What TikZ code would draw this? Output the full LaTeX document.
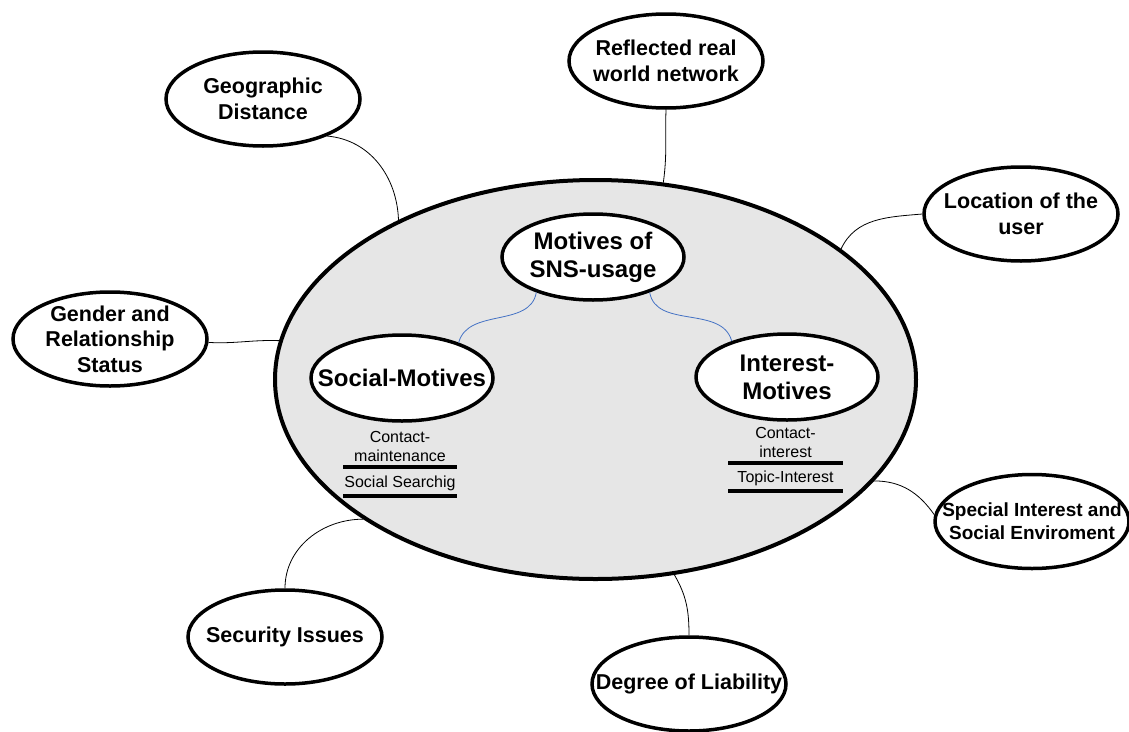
\documentclass[tikz,border=0pt]{standalone}
\usepackage{fontspec}
\setmainfont{Liberation Sans}
\usetikzlibrary{shapes.geometric}
\definecolor{mainfill}{RGB}{230,230,230}
\definecolor{linkblue}{RGB}{68,114,196}
\tikzset{
  oval/.style={ellipse, draw, line width=3.5pt, fill=white, inner sep=0pt,
    minimum width=194pt, minimum height=94pt},
  otxt/.style={font=\bfseries\fontsize{21.5}{25.5}\selectfont, align=center, inner sep=0pt},
  stxt/.style={font=\bfseries\fontsize{19}{23}\selectfont, align=center, inner sep=0pt},
  inoval/.style={ellipse, draw, line width=3.5pt, fill=white, inner sep=0pt,
    minimum width=182pt, minimum height=86pt},
  itxt/.style={font=\bfseries\fontsize{24}{28}\selectfont, align=center, inner sep=0pt},
  subtxt/.style={font=\fontsize{16}{19}\selectfont, align=center, inner sep=0pt},
  bar/.style={line width=3.5pt},
  conn/.style={line width=0.8pt},
  blueconn/.style={line width=0.8pt, draw=linkblue},
}
\begin{document}
\begin{tikzpicture}[x=1pt,y=1pt]
\useasboundingbox (0,0) rectangle (1129,-731);
% main ellipse
\node[ellipse, draw, line width=4pt, fill=mainfill, inner sep=0pt,
  minimum width=641pt, minimum height=399pt] (main) at (595.5,-379.5) {};
% inner ovals
\node[inoval, label={[itxt]center:Motives of\\SNS-usage}] (mot) at (593,-257) {};
\node[inoval, label={[itxt]center:Social-Motives}] (soc) at (402,-378) {};
\node[inoval, label={[itxt]center:Interest-\\Motives}] (int) at (787,-377) {};
% sub texts
\node[subtxt] (cm) at (400,-446) {Contact-\\maintenance};
\node[subtxt] (ss) at (400,-483) {Social Searchig};
\draw[bar] (343,-467) -- (457,-467);
\draw[bar] (343,-496) -- (457,-496);
\node[subtxt] (ci) at (785.5,-442) {Contact-\\interest};
\node[subtxt] (ti) at (785.5,-478) {Topic-Interest};
\draw[bar] (728,-463) -- (843,-463);
\draw[bar] (728,-491) -- (843,-491);
% outer ovals
\node[oval, label={[otxt]center:Geographic\\Distance}] (geo) at (263,-99) {};
\node[oval, label={[otxt]center:Reflected real\\world network}] (refl) at (666,-61) {};
\node[oval, label={[otxt]center:Location of the\\user}] (loc) at (1021,-214) {};
\node[oval, label={[otxt]center:Gender and\\Relationship\\Status}] (gen) at (110,-339) {};
\node[oval, label={[stxt]center:Special Interest and\\Social Enviroment}] (spec) at (1032,-521.5) {};
\node[oval, label={[otxt]center:Security Issues}] (sec) at (285,-637) {};
\node[oval, label={[otxt]center:Degree of Liability}] (deg) at (689,-684) {};
% connectors
\draw[conn] (geo.-30) to[out=-5,in=92] (main.141.6);
\draw[conn] (refl.south) to[out=-92,in=82] (main.71.8);
\draw[conn] (loc.west) to[out=185,in=65] (main.28.2);
\draw[conn] (gen.-2) to[out=-3,in=178] (main.173.7);
\draw[conn] (main.-20.6) to[out=0,in=125] (spec.176);
\draw[conn] (sec.north) to[out=90,in=180] (main.211.7);
\draw[conn] (deg.north) to[out=90,in=-60] (main.-68.6);
% blue connectors
\draw[blueconn] (mot.212.7) to[out=-100,in=75] (soc.32.3);
\draw[blueconn] (mot.-32.3) to[out=-80,in=105] (int.147);
\end{tikzpicture}
\end{document}
